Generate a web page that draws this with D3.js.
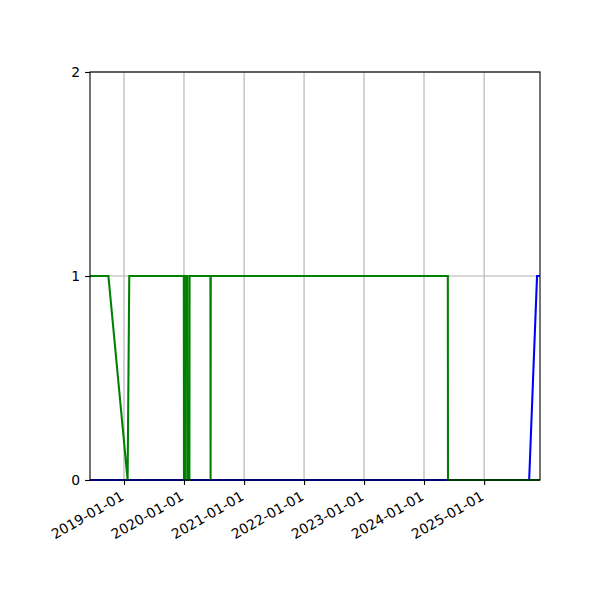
<!DOCTYPE html>
<html>
<head>
<meta charset="utf-8">
<script src="https://cdn.jsdelivr.net/npm/d3@7"></script>
<style>
  body { margin: 0; background: #fff; }
  text { font-family: "DejaVu Sans", sans-serif; font-size: 13.9px; fill: #000; }
</style>
</head>
<body>
<div id="chart"></div>
<script>
// Series (0/1 state over time)
var greenDates = ["2018-06-08", "2018-09-28", "2019-01-23", "2019-02-02",
    "2019-12-31", "2020-01-01", "2020-01-08", "2020-01-09",
    "2020-01-21", "2020-01-22", "2020-02-03", "2020-02-04",
    "2020-06-10", "2020-06-11", "2020-06-12",
    "2024-05-25", "2024-05-26", "2025-12-07"];
var greenValues = [1, 1, 0, 1,
    1, 0, 0, 1,
    1, 0, 0, 1,
    1, 0, 1,
    1, 0, 0];

var blueDates = ["2018-06-08", "2025-10-02", "2025-11-19", "2025-12-07"];
var blueValues = [0, 0, 1, 1];

var yTicks = [0, 1, 2];
var xTickDates = ["2019-01-01", "2020-01-01", "2021-01-01", "2022-01-01",
    "2023-01-01", "2024-01-01", "2025-01-01"];

// Layout
var svgWidth = 600, svgHeight = 600;
var margin = { t: 72, r: 60, b: 120, l: 90 };
var chartWidth = svgWidth - margin.l - margin.r;
var chartHeight = svgHeight - margin.t - margin.b;

var parse = d3.timeParse("%Y-%m-%d");
var fmt = d3.timeFormat("%Y-%m-%d");

var green = greenDates.map((d, i) => ({ date: parse(d), value: greenValues[i] }));
var blue = blueDates.map((d, i) => ({ date: parse(d), value: blueValues[i] }));

var svg = d3.select("#chart")
    .append("svg")
    .attr("width", svgWidth)
    .attr("height", svgHeight);

svg.append("rect")
    .attr("width", svgWidth)
    .attr("height", svgHeight)
    .attr("fill", "#fff");

var chart = svg.append("g")
    .attr("transform", `translate(${margin.l} ${margin.t})`);

var xScale = d3.scaleTime()
    .domain(d3.extent(green.concat(blue), d => d.date))
    .range([0, chartWidth]);

var yScale = d3.scaleLinear()
    .domain([0, 2])
    .range([chartHeight, 0]);

var xTicks = xTickDates.map(parse);

// Grid lines
chart.append("g")
    .selectAll("line")
    .data(xTicks)
    .enter()
    .append("line")
    .attr("x1", d => xScale(d))
    .attr("x2", d => xScale(d))
    .attr("y1", 0)
    .attr("y2", chartHeight)
    .attr("stroke", "#b0b0b0")
    .attr("stroke-width", 1.1);

chart.append("g")
    .selectAll("line")
    .data(yTicks)
    .enter()
    .append("line")
    .attr("x1", 0)
    .attr("x2", chartWidth)
    .attr("y1", d => yScale(d))
    .attr("y2", d => yScale(d))
    .attr("stroke", "#b0b0b0")
    .attr("stroke-width", 1.1);

// Lines
var line = d3.line()
    .x(d => xScale(d.date))
    .y(d => yScale(d.value));

chart.append("path")
    .datum(blue)
    .attr("d", line)
    .attr("fill", "none")
    .attr("stroke", "#0000ff")
    .attr("stroke-width", 2.08);

chart.append("path")
    .datum(green)
    .attr("d", line)
    .attr("fill", "none")
    .attr("stroke", "#008000")
    .attr("stroke-width", 2.08);

// Axes
var xAxis = d3.axisBottom(xScale)
    .tickValues(xTicks)
    .tickSize(4.9)
    .tickPadding(4.9)
    .tickFormat(fmt);

var yAxis = d3.axisLeft(yScale)
    .tickValues(yTicks)
    .tickSize(4.9)
    .tickPadding(4.9)
    .tickFormat(d3.format("d"));

var gx = chart.append("g")
    .attr("transform", `translate(0, ${chartHeight})`)
    .call(xAxis);

gx.selectAll("text")
    .attr("text-anchor", "end")
    .attr("y", 0)
    .attr("dy", "0.76em")
    .attr("transform", "translate(-5, 10) rotate(-30)");

var gy = chart.append("g")
    .call(yAxis);

[gx, gy].forEach(g => {
    g.select(".domain").remove();
    g.selectAll("line").attr("stroke", "#000").attr("stroke-width", 1.1);
    g.selectAll("text").style("font-size", "13.9px").style("font-family", "DejaVu Sans, sans-serif");
});

// Frame (spines)
chart.append("rect")
    .attr("x", 0)
    .attr("y", 0)
    .attr("width", chartWidth)
    .attr("height", chartHeight)
    .attr("fill", "none")
    .attr("stroke", "#000")
    .attr("stroke-width", 1.1);
</script>
</body>
</html>
